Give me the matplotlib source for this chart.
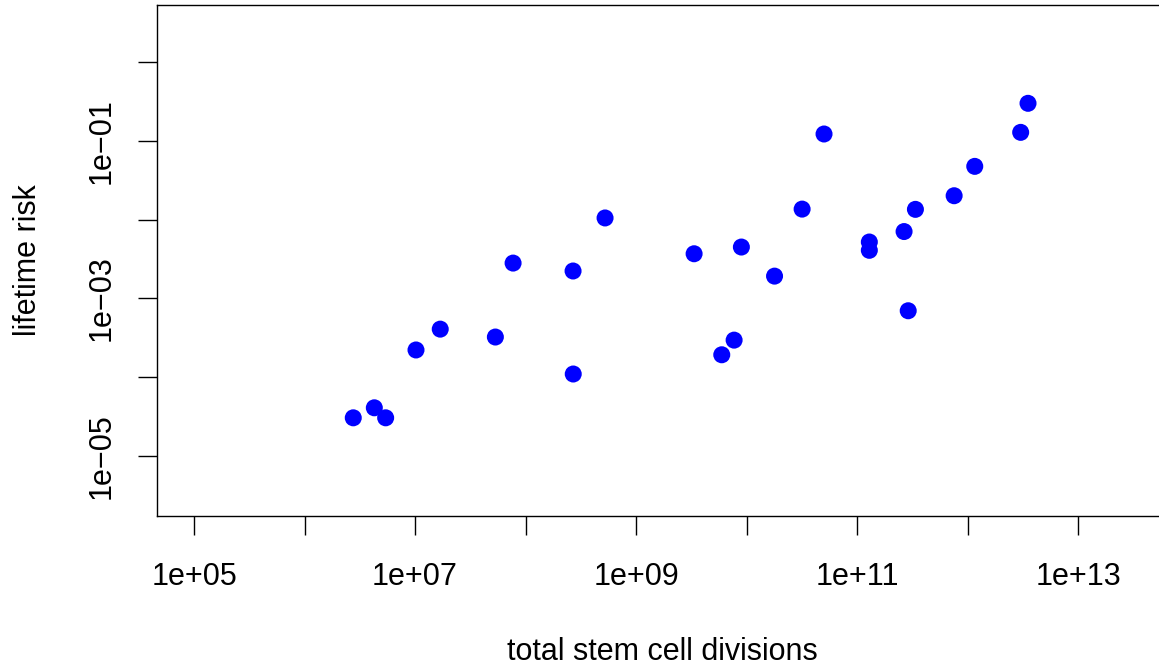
import numpy as np
import matplotlib
matplotlib.use("Agg")
import matplotlib.pyplot as plt
from matplotlib.ticker import FixedLocator, FixedFormatter

plt.rcParams['font.family'] = ['Liberation Sans', 'DejaVu Sans']

# total stem cell divisions (x) and lifetime risk (y)
divisions = [2.76e6, 4.28e6, 5.42e6, 1.02e7, 1.69e7, 5.33e7, 7.71e7, 2.69e8, 2.70e8,
             5.24e8, 3.35e9, 5.96e9, 7.71e9, 8.97e9, 1.79e10, 3.18e10, 5.02e10,
             1.29e11, 1.29e11, 2.66e11, 2.90e11, 3.37e11, 7.55e11, 1.16e12, 3.02e12, 3.52e12]
risk = [3.06e-5, 4.10e-5, 3.06e-5, 2.22e-4, 4.08e-4, 3.24e-4, 2.81e-3, 2.23e-3, 1.10e-4,
        1.05e-2, 3.69e-3, 1.93e-4, 2.96e-4, 4.49e-3, 1.92e-3, 1.36e-2, 1.22e-1,
        5.20e-3, 4.08e-3, 7.06e-3, 6.98e-4, 1.35e-2, 2.01e-2, 4.74e-2, 1.28e-1, 2.99e-1]

x_ticks = [10.0 ** e for e in range(5, 14)]
x_labels = ["1e+05", "", "1e+07", "", "1e+09", "", "1e+11", "", "1e+13"]
y_ticks = [10.0 ** e for e in range(-5, 1)]
y_labels = ["1e\u221205", "", "1e\u221203", "", "1e\u221201", ""]

W, H = 1159, 667
fig = plt.figure(figsize=(W / 100, H / 100), dpi=100)
left, right, top, bottom = 157, 1166, 5, 516
ax = fig.add_axes([left / W, (H - bottom) / H, (right - left) / W, (bottom - top) / H])

ax.scatter(divisions, risk, s=150, color="#0000ff", edgecolors="none", zorder=3)

ax.set_xscale("log")
ax.set_yscale("log")
ax.set_xlim(10 ** 4.665, 10 ** 13.795)
ax.set_ylim(10 ** -5.76, 10 ** 0.723)

ax.xaxis.set_major_locator(FixedLocator(x_ticks))
ax.xaxis.set_major_formatter(FixedFormatter(x_labels))
ax.xaxis.set_minor_locator(FixedLocator([]))
ax.yaxis.set_major_locator(FixedLocator(y_ticks))
ax.yaxis.set_major_formatter(FixedFormatter(y_labels))
ax.yaxis.set_minor_locator(FixedLocator([]))

ax.tick_params(axis="both", direction="out", length=14, width=1.0, labelsize=22)
ax.tick_params(axis="x", pad=19)
ax.tick_params(axis="y", pad=15)
for lab in ax.get_yticklabels():
    lab.set_rotation(90)
    lab.set_va("center")

for sp in ax.spines.values():
    sp.set_linewidth(1.0)

ax.set_xlabel("total stem cell divisions", fontsize=22)
ax.set_ylabel("lifetime risk", fontsize=22)
ax.xaxis.set_label_coords((662 - left) / (right - left), -(652 - bottom) / (bottom - top))
ax.yaxis.set_label_coords(-(left - 28) / (right - left), (bottom - 260) / (bottom - top))
ax.xaxis.label.set_va("center")
ax.yaxis.label.set_va("center")

fig.savefig("out.png", dpi=100)
plt.close(fig)
